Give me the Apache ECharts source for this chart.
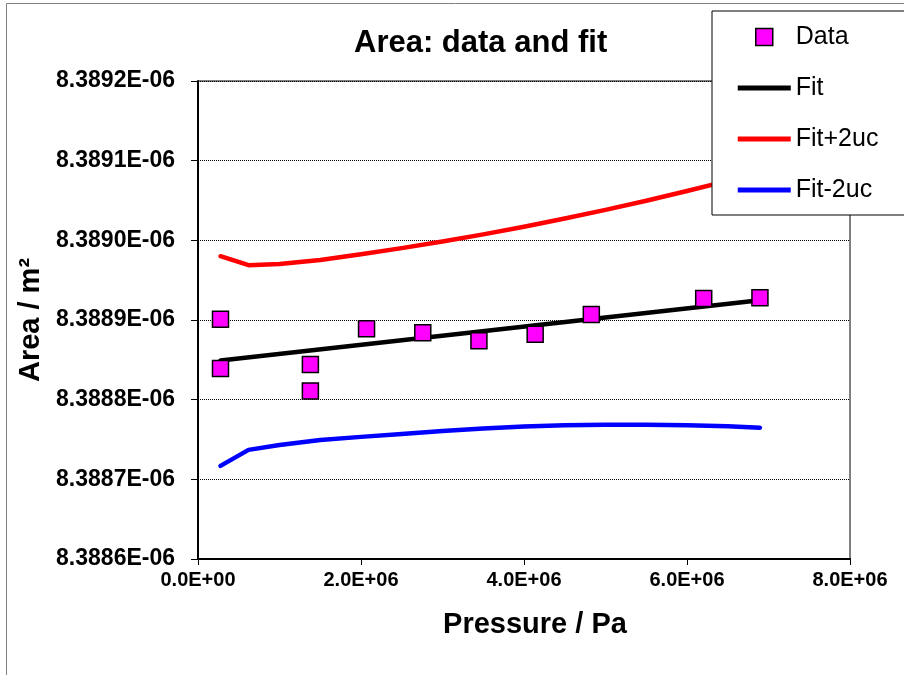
<!DOCTYPE html>
<html>
<head>
<meta charset="utf-8">
<script src="https://cdn.jsdelivr.net/npm/echarts@6/dist/echarts.min.js"></script>
<style>
html,body{margin:0;padding:0;background:#fff;}
#chart{width:904px;height:675px;}
</style>
</head>
<body>
<div id="chart"></div>
<script>
// ---- data ----
const pressure = [0.276e6, 0.276e6, 1.379e6, 1.379e6, 2.068e6, 2.758e6, 3.447e6, 4.137e6, 4.826e6, 6.205e6, 6.895e6];
const area = [8.388901e-6, 8.388839e-6, 8.388844e-6, 8.388811e-6, 8.388889e-6, 8.388884e-6, 8.388874e-6, 8.388882e-6, 8.388907e-6, 8.388927e-6, 8.388928e-6];

const fitPressure = [0.276e6, 6.895e6];
const fitArea = [8.3888493e-6, 8.3889249e-6];

const curvePressure = [0.276e6, 0.62e6, 1.0e6, 1.5e6, 2.0e6, 2.5e6, 3.0e6, 3.5e6, 4.0e6, 4.5e6, 5.0e6, 5.5e6, 6.0e6, 6.5e6, 6.895e6];
const fitPlus2uc = [8.3889801e-6, 8.3889688e-6, 8.3889703e-6, 8.3889754e-6, 8.3889825e-6, 8.3889902e-6, 8.3889985e-6, 8.3890075e-6, 8.3890171e-6, 8.3890275e-6, 8.3890382e-6, 8.3890497e-6, 8.3890619e-6, 8.3890747e-6, 8.3890855e-6];
const fitMinus2uc = [8.3887169e-6, 8.3887370e-6, 8.3887432e-6, 8.3887495e-6, 8.3887533e-6, 8.3887570e-6, 8.3887608e-6, 8.3887639e-6, 8.3887664e-6, 8.3887679e-6, 8.3887685e-6, 8.3887685e-6, 8.3887679e-6, 8.3887667e-6, 8.3887649e-6];

const seriesNames = ['Data', 'Fit', 'Fit+2uc', 'Fit-2uc'];
const titleText = 'Area: data and fit';
const xAxisName = 'Pressure / Pa';
const yAxisName = 'Area / m\u00B2';

const FONT = 'Arial, "Liberation Sans", sans-serif';

function sci(v, digits) {
  let s = Number(v).toExponential(digits);
  let parts = s.split('e');
  let exp = parseInt(parts[1], 10);
  let sign = exp < 0 ? '-' : '+';
  let a = Math.abs(exp);
  return parts[0] + 'E' + sign + (a < 10 ? '0' + a : '' + a);
}

const pairs = (xs, ys) => xs.map((x, i) => [x, ys[i]]);

const chart = echarts.init(document.getElementById('chart'), null, {renderer: 'canvas'});

const lineIcon = 'path://M0,0M53,17M0,6L53,6L53,11L0,11Z';
const squareIcon = 'path://M0,0M53,17M18,0L35,0L35,17L18,17Z';

chart.setOption({
  backgroundColor: '#fff',
  animation: false,
  title: {
    text: titleText,
    left: 349,
    top: 23,
    textStyle: {fontFamily: FONT, fontSize: 31, fontWeight: 'bold', color: '#000'}
  },
  graphic: [{
    type: 'rect',
    shape: {x: 6.5, y: 3.5, width: 940, height: 720},
    style: {fill: 'none', stroke: '#808080', lineWidth: 1},
    z: 0, silent: true
  }],
  legend: {
    orient: 'vertical',
    left: 712,
    top: 11,
    padding: [11, 80, 10, 25],
    itemGap: 21,
    itemWidth: 53,
    itemHeight: 17,
    backgroundColor: '#fff',
    borderColor: '#000',
    borderWidth: 1,
    textStyle: {fontFamily: FONT, fontSize: 25, color: '#000', lineHeight: 30},
    data: [
      {name: seriesNames[0], icon: squareIcon, itemStyle: {color: '#FF00FF', borderColor: '#000', borderWidth: 1.5}},
      {name: seriesNames[1], icon: lineIcon, itemStyle: {color: '#000', borderWidth: 0}},
      {name: seriesNames[2], icon: lineIcon, itemStyle: {color: '#FF0000', borderWidth: 0}},
      {name: seriesNames[3], icon: lineIcon, itemStyle: {color: '#0000FF', borderWidth: 0}}
    ]
  },
  grid: {
    left: 198, top: 81, width: 652, height: 478,
    show: true, borderColor: '#000', borderWidth: 1, backgroundColor: '#fff'
  },
  xAxis: {
    type: 'value',
    min: 0, max: 8e6, interval: 2e6,
    name: xAxisName,
    nameLocation: 'middle',
    nameGap: 51,
    nameTextStyle: {fontFamily: FONT, fontSize: 29, fontWeight: 'bold', color: '#000', padding: [0, 0, 0, 22]},
    axisLine: {show: true, onZero: false, lineStyle: {color: '#000', width: 2}},
    axisTick: {show: true, inside: false, length: 6, lineStyle: {color: '#000', width: 1}},
    axisLabel: {
      fontFamily: FONT, fontSize: 20, fontWeight: 'bold', color: '#000', margin: 11,
      formatter: v => sci(v, 1)
    },
    splitLine: {show: false}
  },
  yAxis: {
    type: 'value',
    min: 8.3886e-6, max: 8.3892e-6, interval: 1e-10,
    name: yAxisName,
    nameLocation: 'middle',
    nameGap: 153,
    nameRotate: 90,
    nameTextStyle: {fontFamily: FONT, fontSize: 29, fontWeight: 'bold', color: '#000'},
    axisLine: {show: true, onZero: false, lineStyle: {color: '#000', width: 2}},
    axisTick: {show: true, inside: false, length: 7, lineStyle: {color: '#000', width: 1}},
    axisLabel: {
      fontFamily: FONT, fontSize: 23, fontWeight: 'bold', color: '#000', margin: 23,
      formatter: v => sci(v, 4)
    },
    splitLine: {show: true, lineStyle: {color: '#000', width: 1, type: [1, 1]}}
  },
  series: [
    {
      name: seriesNames[1], type: 'line', data: pairs(fitPressure, fitArea),
      symbol: 'none', lineStyle: {color: '#000', width: 4.5, cap: 'round'}, itemStyle: {color: '#000'}, z: 3
    },
    {
      name: seriesNames[2], type: 'line', data: pairs(curvePressure, fitPlus2uc),
      symbol: 'none', lineStyle: {color: '#FF0000', width: 4.5, cap: 'round', join: 'round'}, itemStyle: {color: '#FF0000'}, z: 3
    },
    {
      name: seriesNames[3], type: 'line', data: pairs(curvePressure, fitMinus2uc),
      symbol: 'none', lineStyle: {color: '#0000FF', width: 4.5, cap: 'round', join: 'round'}, itemStyle: {color: '#0000FF'}, z: 3
    },
    {
      name: seriesNames[0], type: 'scatter', data: pairs(pressure, area),
      symbol: 'rect', symbolSize: 16,
      itemStyle: {color: '#FF00FF', borderColor: '#000', borderWidth: 1.5, opacity: 1}, z: 5
    }
  ]
});
</script>
</body>
</html>
